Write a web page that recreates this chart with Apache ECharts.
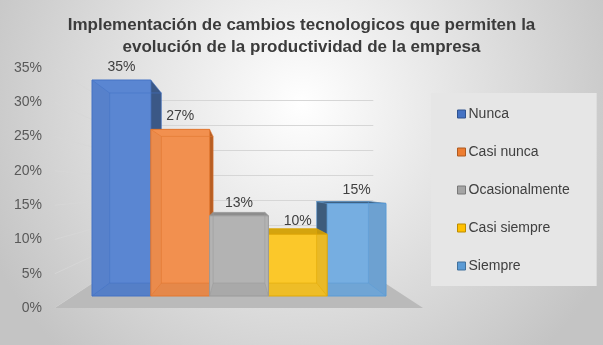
<!DOCTYPE html>
<html><head><meta charset="utf-8">
<script src="https://cdn.jsdelivr.net/npm/echarts@6/dist/echarts.min.js"></script>
<style>html,body{margin:0;padding:0;background:#fff}#c{width:603px;height:345px}</style>
</head><body><div id="c"></div>
<script>
// ---- data ----
const titleText = 'Implementación de cambios tecnologicos que permiten la\nevolución de la productividad de la empresa';
const categories = ['Nunca', 'Casi nunca', 'Ocasionalmente', 'Casi siempre', 'Siempre'];
const values = [35, 27, 13, 10, 15];
const tickValues = [0, 5, 10, 15, 20, 25, 30, 35];
const yMin = 0, yMax = 35, yStep = 5;

// ---- style ----
const frontColors = ['#5a86d2', '#f2904f', '#b3b3b3', '#fbc82a', '#76aee1'];
const edgeColors  = ['#4472c4', '#e2772f', '#9a9a9a', '#e0a806', '#5b9bd5'];
const sideColors  = ['#3b5886', '#b65e24', '#8d8d8d', '#d4a40e', '#3e5c7b'];
const legendColors  = ['#4472c4', '#ed7d31', '#a5a5a5', '#ffc000', '#5b9bd5'];
const legendBorders = ['#2f528f', '#ae5a21', '#787878', '#bc8c00', '#41719c'];
const zRank = [2, 3, 6, 5, 4];
const K_BACK = 0.12, K_WALL = 0.19, K_FRONT = -0.11, FLOOR_PAD = 0.32;
const FONT = '"Liberation Sans", Arial, sans-serif';

function vanish(api) {
  const bw = api.size([1, 0])[0];
  const c = api.coord([(categories.length - 1) / 2, (yMin + yMax) / 2]);
  return { vx: c[0], vy: c[1], bw: bw };
}
function proj(p, v, k) { return [p[0] + (v.vx - p[0]) * k, p[1] + (v.vy - p[1]) * k]; }

function renderScene(params, api) {
  const v = vanish(api);
  const left = api.coord([0, 0])[0] - v.bw * (0.5 + FLOOR_PAD);
  const right = api.coord([categories.length - 1, 0])[0] + v.bw * (0.5 + FLOOR_PAD);
  const yb = api.coord([0, yMin])[1];
  const children = [];
  tickValues.forEach(function (t) {
    const y = api.coord([0, t])[1];
    const a = proj([left, y], v, K_WALL), b = proj([right, y], v, K_WALL), f = proj([left, y], v, K_FRONT);
    children.push({ type: 'line', shape: { x1: a[0], y1: a[1], x2: b[0], y2: b[1] }, style: { stroke: '#d6d6d6', lineWidth: 1 } });
    children.push({ type: 'line', shape: { x1: f[0], y1: f[1], x2: a[0], y2: a[1] }, style: { stroke: 'rgba(215,215,215,0.8)', lineWidth: 1 } });
  });
  const p1 = proj([left, yb], v, K_FRONT), p2 = proj([right, yb], v, K_FRONT),
        p3 = proj([right, yb], v, K_WALL), p4 = proj([left, yb], v, K_WALL);
  children.push({ type: 'polygon', shape: { points: [p1, p2, p3, p4] }, style: { fill: '#bababa' } });
  return { type: 'group', children: children };
}

function makeBarRenderer(i) {
  return function (params, api) {
    const v = vanish(api);
    const top = api.coord([api.value(0), api.value(1)]);
    const base = api.coord([api.value(0), yMin]);
    const xl = top[0] - v.bw / 2, xr = top[0] + v.bw / 2, yt = top[1], yb = base[1];
    const F = { tl: [xl, yt], tr: [xr, yt], br: [xr, yb], bl: [xl, yb] };
    const B = { tl: proj(F.tl, v, K_BACK), tr: proj(F.tr, v, K_BACK), br: proj(F.br, v, K_BACK), bl: proj(F.bl, v, K_BACK) };
    const ch = [];
    if (xr < v.vx - 1) ch.push({ type: 'polygon', shape: { points: [F.tr, B.tr, B.br, F.br] }, style: { fill: sideColors[i] } });
    if (xl > v.vx + 1) ch.push({ type: 'polygon', shape: { points: [F.tl, B.tl, B.bl, F.bl] }, style: { fill: sideColors[i] } });
    if (yt > v.vy) ch.push({ type: 'polygon', shape: { points: [F.tl, F.tr, B.tr, B.tl] }, style: { fill: sideColors[i], stroke: sideColors[i], lineWidth: 0.5 } });
    ch.push({ type: 'rect', shape: { x: xl, y: yt, width: xr - xl, height: yb - yt }, style: { fill: frontColors[i] } });
    // faces seen through the translucent front
    ch.push({ type: 'polygon', shape: { points: [F.bl, F.br, B.br, B.bl] }, style: { fill: 'rgba(0,0,0,0.05)' } });
    if (xl > v.vx + 1) ch.push({ type: 'polygon', shape: { points: [F.tr, B.tr, B.br, F.br] }, style: { fill: 'rgba(0,0,0,0.07)' } });
    if (xr < v.vx - 1) ch.push({ type: 'polygon', shape: { points: [F.tl, B.tl, B.bl, F.bl] }, style: { fill: 'rgba(0,0,0,0.03)' } });
    const inner = { stroke: edgeColors[i], lineWidth: 1, opacity: 0.55 };
    ch.push({ type: 'polygon', shape: { points: [B.tl, B.tr, B.br, B.bl] }, style: Object.assign({ fill: 'none' }, inner) });
    ['tl', 'tr', 'br', 'bl'].forEach(function (k) {
      ch.push({ type: 'line', shape: { x1: F[k][0], y1: F[k][1], x2: B[k][0], y2: B[k][1] }, style: inner });
    });
    ch.push({ type: 'rect', shape: { x: xl, y: yt, width: xr - xl, height: yb - yt }, style: { fill: 'none', stroke: edgeColors[i], lineWidth: 1 } });
    ch.push({ type: 'text', style: { text: api.value(1) + '%', x: top[0], y: yt - 13, align: 'center', verticalAlign: 'middle', fill: '#404040', font: '14px ' + FONT } });
    return { type: 'group', children: ch };
  };
}

const series = [{
  type: 'custom', name: '_scene', xAxisIndex: 0, yAxisIndex: 0, z: 1, clip: false, silent: true,
  data: [[0, 0]], renderItem: renderScene
}];
categories.forEach(function (name, i) {
  series.push({
    type: 'custom', name: name, xAxisIndex: 0, yAxisIndex: 0, z: zRank[i], clip: false,
    itemStyle: { color: legendColors[i] },
    encode: { x: 0, y: 1 },
    data: [[i, values[i]]],
    renderItem: makeBarRenderer(i)
  });
});

const chart = echarts.init(document.getElementById('c'), null, { renderer: 'canvas' });
chart.setOption({
  animation: false,
  backgroundColor: {
    type: 'radial', x: 0.5, y: 0.3, r: 1.0,
    colorStops: [{ offset: 0, color: '#ffffff' }, { offset: 1, color: '#c4c4c4' }]
  },
  title: {
    text: titleText, left: 'center', top: 9,
    textStyle: { fontSize: 17, fontWeight: 'bold', color: '#3b3b3b', fontFamily: FONT, lineHeight: 22 }
  },
  legend: {
    data: categories.map(function (n, i) {
      return { name: n, itemStyle: { color: legendColors[i], borderColor: legendBorders[i], borderWidth: 1 } };
    }),
    orient: 'vertical', left: 431, top: 93, icon: 'rect',
    itemWidth: 8, itemHeight: 8, itemGap: 24,
    padding: [14, 27, 13, 26], backgroundColor: '#e6e6e6',
    selectedMode: false,
    textStyle: { fontSize: 14, color: '#404040', fontFamily: FONT, padding: [0, 0, 0, -2] }
  },
  grid: [
    { left: 92, top: 80, width: 294, height: 216 },
    { left: 50, top: 68, width: 5, height: 240 }
  ],
  xAxis: [
    { type: 'category', gridIndex: 0, data: categories, show: false },
    { type: 'value', gridIndex: 1, show: false }
  ],
  yAxis: [
    { type: 'value', gridIndex: 0, min: yMin, max: yMax, show: false },
    {
      type: 'value', gridIndex: 1, min: yMin, max: yMax, interval: yStep,
      axisLine: { show: false }, axisTick: { show: false }, splitLine: { show: false },
      axisLabel: { formatter: '{value}%', color: '#595959', fontSize: 14, fontFamily: FONT, margin: 8 }
    }
  ],
  series: series
});
</script>
</body></html>
